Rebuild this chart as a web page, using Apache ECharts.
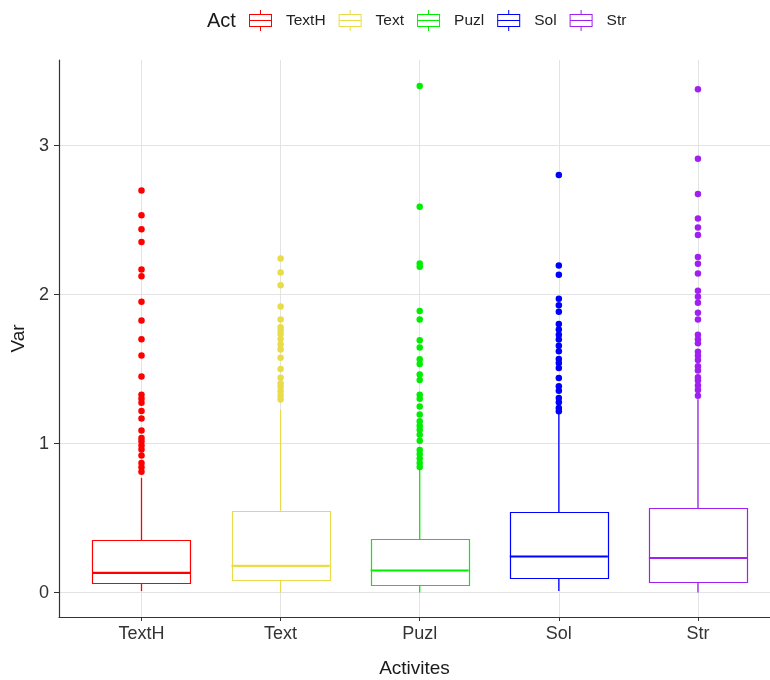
<!DOCTYPE html>
<html>
<head>
<meta charset="utf-8">
<script src="https://cdn.jsdelivr.net/npm/echarts@6/dist/echarts.min.js"></script>
<style>
  html, body { margin: 0; padding: 0; background: #fff; }
  #chart { width: 770px; height: 680px; }
</style>
</head>
<body>
<div id="chart"></div>
<script>
// categories and colours
const categories = ['TextH', 'Text', 'Puzl', 'Sol', 'Str']
const colors = ['#ff0000', '#e8dc4a', '#00ee00', '#0000ff', '#a020f0']

// box statistics per category
const lowWhisker = [0.01, 0.0, 0.0, 0.01, 0.0]
const q1 = [0.065, 0.09, 0.048, 0.096, 0.07]
const median = [0.132, 0.179, 0.148, 0.242, 0.232]
const q3 = [0.351, 0.55, 0.359, 0.538, 0.566]
const highWhisker = [0.77, 1.227, 0.832, 1.205, 1.298]

// outliers per category
const outTextH = [2.698, 2.532, 2.438, 2.353, 2.168, 2.123, 1.951, 1.826, 1.7, 1.591, 1.45, 1.327, 1.3,
  1.273, 1.219, 1.168, 1.087, 1.038, 1.016, 0.987, 0.96, 0.919, 0.87, 0.841, 0.81]
const outText = [2.242, 2.148, 2.063, 1.919, 1.832, 1.781, 1.758, 1.736, 1.702, 1.664, 1.631, 1.575, 1.501,
  1.441, 1.403, 1.38, 1.351, 1.322, 1.295]
const outPuzl = [3.4, 2.589, 2.209, 2.186, 1.889, 1.832, 1.693, 1.645, 1.566, 1.534, 1.464, 1.427, 1.327,
  1.3, 1.248, 1.195, 1.15, 1.12, 1.093, 1.059, 1.018, 0.957, 0.93, 0.9, 0.87, 0.843]
const outSol = [2.802, 2.195, 2.132, 1.971, 1.928, 1.884, 1.803, 1.765, 1.731, 1.698, 1.657, 1.619, 1.568,
  1.541, 1.507, 1.44, 1.384, 1.355, 1.306, 1.277, 1.239, 1.216]
const outStr = [3.377, 2.911, 2.675, 2.511, 2.45, 2.4, 2.252, 2.207, 2.141, 2.025, 1.986, 1.945, 1.877,
  1.832, 1.73, 1.7, 1.673, 1.616, 1.59, 1.56, 1.518, 1.49, 1.445, 1.423, 1.39, 1.36, 1.32]
const outliers = [outTextH, outText, outPuzl, outSol, outStr]

const yTicks = [0, 1, 2, 3]
const xTicks = [0, 1, 2, 3, 4]

const BOX_WIDTH = 0.705
const FONT = "'Liberation Sans', Arial, sans-serif"
// legend key: box with median line and whisker stubs
const KEY_ICON = 'path://M0 4H23V5H0Z M0 16H23V17H0Z M0 4H1V17H0Z M22 4H23V17H22Z M0 10H23V11H0Z M11 0H12V4H11Z M11 17H12V21H11Z'

function renderBox(params, api) {
  const x = api.value(0)
  const half = api.size([BOX_WIDTH, 0])[0] / 2
  const lo = api.coord([x, api.value(1)])
  const b1 = api.coord([x, api.value(2)])
  const md = api.coord([x, api.value(3)])
  const b3 = api.coord([x, api.value(4)])
  const hi = api.coord([x, api.value(5)])
  const color = api.visual('color')
  const cx = lo[0]
  return {
    type: 'group',
    children: [
      { type: 'line', shape: { x1: cx, y1: hi[1], x2: cx, y2: b3[1] }, style: { stroke: color, lineWidth: 1.3 } },
      { type: 'line', shape: { x1: cx, y1: b1[1], x2: cx, y2: lo[1] }, style: { stroke: color, lineWidth: 1.3 } },
      {
        type: 'rect',
        shape: { x: Math.round(cx - half) + 0.5, y: Math.round(b3[1]) + 0.5, width: Math.round(half * 2), height: Math.round(b1[1] - b3[1]) },
        style: { fill: '#fff', stroke: color, lineWidth: 1.2 },
      },
      { type: 'line', shape: { x1: cx - half, y1: md[1], x2: cx + half, y2: md[1] }, style: { stroke: color, lineWidth: 2.2 } },
    ],
  }
}

const series = []
categories.forEach((name, i) => {
  series.push({
    name: name,
    type: 'scatter',
    symbol: 'circle',
    symbolSize: 6.5,
    itemStyle: { color: colors[i], opacity: 1 },
    z: 3,
    data: outliers[i].map((v) => [i, v]),
  })
  series.push({
    name: name,
    type: 'custom',
    renderItem: renderBox,
    itemStyle: { color: colors[i] },
    encode: { x: 0, y: [1, 2, 3, 4, 5] },
    z: 2,
    data: [[i, lowWhisker[i], q1[i], median[i], q3[i], highWhisker[i]]],
  })
})

const option = {
  animation: false,
  backgroundColor: '#fff',
  textStyle: { fontFamily: FONT },
  title: {
    text: 'Act',
    left: 207,
    top: 11,
    padding: 0,
    textStyle: { fontSize: 20, fontWeight: 'normal', color: '#1a1a1a', fontFamily: FONT },
  },
  legend: {
    left: 249,
    top: 10,
    padding: 0,
    itemWidth: 23,
    itemHeight: 21,
    itemGap: 13,
    selectedMode: false,
    textStyle: { fontSize: 15.5, color: '#222', fontFamily: FONT, padding: [0, 0, 0, 9] },
    data: categories.map((name) => ({ name: name, icon: KEY_ICON })),
  },
  grid: {
    left: 59,
    right: 0,
    top: 60,
    bottom: 63,
    containLabel: false,
    outerBoundsMode: 'none',
  },
  xAxis: {
    type: 'value',
    min: -0.593,
    max: 4.518,
    name: 'Activites',
    nameLocation: 'middle',
    nameGap: 42,
    nameTextStyle: { fontSize: 19, color: '#1a1a1a', fontFamily: FONT },
    axisLine: { show: true, onZero: false, lineStyle: { color: '#333', width: 1.2 } },
    axisTick: { show: true, length: 4, customValues: xTicks, lineStyle: { color: '#333' } },
    axisLabel: {
      customValues: xTicks,
      formatter: (v) => categories[Math.round(v)],
      fontSize: 18,
      color: '#333',
      margin: 8,
      fontFamily: FONT,
    },
    splitLine: { show: true, lineStyle: { color: '#e3e3e3', width: 1 } },
  },
  yAxis: {
    type: 'value',
    min: -0.164,
    max: 3.574,
    name: 'Var',
    nameLocation: 'middle',
    nameGap: 25,
    nameTextStyle: { fontSize: 19, color: '#1a1a1a', fontFamily: FONT },
    axisLine: { show: true, onZero: false, lineStyle: { color: '#333', width: 1.2 } },
    axisTick: { show: true, length: 5, customValues: yTicks, lineStyle: { color: '#333' } },
    axisLabel: { customValues: yTicks, fontSize: 18, color: '#333', margin: 10, fontFamily: FONT },
    splitLine: { show: true, lineStyle: { color: '#e3e3e3', width: 1 } },
  },
  series: series,
}

const chart = echarts.init(document.getElementById('chart'))
chart.setOption(option)
</script>
</body>
</html>
